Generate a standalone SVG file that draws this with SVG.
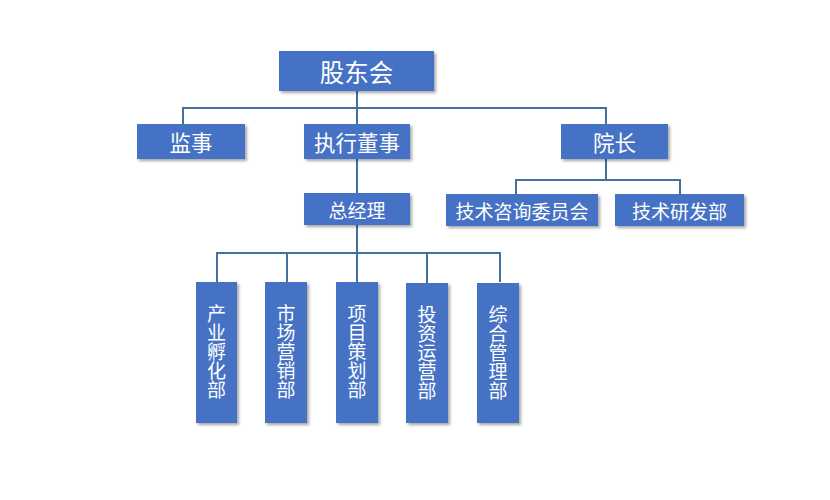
<svg xmlns="http://www.w3.org/2000/svg" width="830" height="500" viewBox="0 0 830 500">
<style>
.box{fill:#4472C4;filter:url(#sh);}
.t{fill:#fff;font-family:"Noto Sans CJK SC","Liberation Sans",sans-serif;text-anchor:middle;dominant-baseline:central;}
.v{writing-mode:vertical-rl;font-size:19px;}
.ln{stroke:#41719C;stroke-width:2;fill:none;}
</style>
<defs>
<filter id="sh" x="-20%" y="-20%" width="140%" height="140%">
<feDropShadow dx="2" dy="2" stdDeviation="1.5" flood-color="#000" flood-opacity="0.35"/>
</filter>
</defs>
<rect width="830" height="500" fill="#fff"/>
<g id="connectors">
<path class="ln" d="M357 91V124M183 124V108H606V124M357 159V193M606 159V180M516 194V180H680V194M357 225V253M217 282V253H500V282M287 253V282M357 253V282M427 253V283"/>
</g>
<g id="n-gudonghui"><rect class="box" x="279" y="51" width="155" height="40"/><text class="t" x="356.5" y="71" font-size="24.5">股东会</text></g>
<g id="n-jianshi"><rect class="box" x="137" y="124" width="108" height="35"/><text class="t" x="191" y="141.5" font-size="21.5">监事</text></g>
<g id="n-zhixing"><rect class="box" x="304" y="124" width="106" height="35"/><text class="t" x="357" y="141.5" font-size="21.5">执行董事</text></g>
<g id="n-yuanzhang"><rect class="box" x="561" y="124" width="107" height="35"/><text class="t" x="614.5" y="141.5" font-size="21.5">院长</text></g>
<g id="n-zongjingli"><rect class="box" x="304" y="193" width="106" height="32"/><text class="t" x="357" y="209" font-size="19">总经理</text></g>
<g id="n-zixun"><rect class="box" x="446" y="194" width="152" height="32"/><text class="t" x="522" y="210" font-size="19">技术咨询委员会</text></g>
<g id="n-yanfa"><rect class="box" x="615" y="194" width="129" height="32"/><text class="t" x="679.5" y="210" font-size="19">技术研发部</text></g>
<g id="n-chanye"><rect class="box" x="196" y="282" width="41" height="141"/><text class="t v" x="216.5" y="352">产业孵化部</text></g>
<g id="n-shichang"><rect class="box" x="265" y="282" width="42" height="141"/><text class="t v" x="286" y="352">市场营销部</text></g>
<g id="n-xiangmu"><rect class="box" x="336" y="282" width="42" height="141"/><text class="t v" x="357" y="352">项目策划部</text></g>
<g id="n-touzi"><rect class="box" x="406" y="283" width="42" height="140"/><text class="t v" x="427" y="353">投资运营部</text></g>
<g id="n-zonghe"><rect class="box" x="477" y="283" width="42" height="140"/><text class="t v" x="498" y="353">综合管理部</text></g>
</svg>
